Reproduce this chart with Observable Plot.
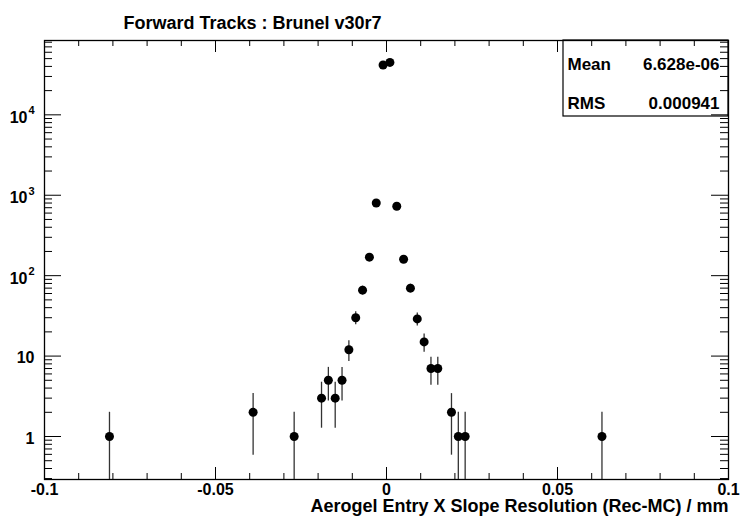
<!DOCTYPE html>
<html><head><meta charset="utf-8">
<script src="https://cdn.jsdelivr.net/npm/d3@7"></script>
<script src="https://cdn.jsdelivr.net/npm/@observablehq/plot@0.6"></script>
<style>body{margin:0;background:#fff;} svg{font-family:"Liberation Sans",Arial,sans-serif;}</style>
</head><body><div id="chart"></div>
<script>
const title = "Forward Tracks : Brunel v30r7";
const xLabel = "Aerogel Entry X Slope Resolution (Rec-MC) / mm";
const binCenters = [-0.081, -0.039, -0.027, -0.019, -0.017, -0.015, -0.013, -0.011, -0.009, -0.007, -0.005, -0.003, -0.001, 0.001, 0.003, 0.005, 0.007, 0.009, 0.011, 0.013, 0.015, 0.019, 0.021, 0.023, 0.063];
const counts = [1, 2, 1, 3, 5, 3, 5, 12, 30, 66, 170, 800, 41600, 44900, 730, 160, 70, 29, 15, 7, 7, 2, 1, 1, 1];
const xTickValues = [-0.1, -0.05, 0, 0.05, 0.1];
const xTickLabels = ["-0.1", "-0.05", "0", "0.05", "0.1"];
const yDecades = [1, 10, 100, 1000, 10000];
const yBaseLabels = ["1", "10", "10", "10", "10"];
const yExpLabels = ["", "", "2", "3", "4"];
const statNames = ["Mean", "RMS"];
const statValues = ["6.628e-06", "0.000941"];

const W = 740, H = 526, mL = 44, mR = 12, mT = 40, mB = 47;
const fw = W - mL - mR, fh = H - mT - mB;
const xDomain = [-0.1, 0.1];
const yDomain = [0.292, 84000];

const pts = binCenters.map((x, i) => ({
  x, n: counts[i],
  lo: Math.max(counts[i] - Math.sqrt(counts[i]), yDomain[0]),
  hi: counts[i] + Math.sqrt(counts[i])
}));

const xMinor = d3.range(-10, 11).map(k => k / 100).filter(v => Math.abs(v * 20 - Math.round(v * 20)) > 1e-9);
const yMinor = [];
for (let e = -1; e <= 4; e++) for (let m = 2; m <= 9; m++) { const v = m * 10 ** e; if (v >= yDomain[0] && v <= yDomain[1]) yMinor.push(v); }

const font = {fontSize: 16, fontWeight: "bold", fill: "#000"};
const expIdx = yDecades.map((d, i) => i).filter(i => yExpLabels[i] !== "");

const marks = [
  Plot.frame({stroke: "#000", strokeWidth: 1.3}),
  Plot.tickX(xTickValues, {x: d => d, insetTop: fh - 12, stroke: "#000"}),
  Plot.tickX(xTickValues, {x: d => d, insetBottom: fh - 12, stroke: "#000"}),
  Plot.tickX(xMinor, {x: d => d, insetTop: fh - 6, stroke: "#000"}),
  Plot.tickX(xMinor, {x: d => d, insetBottom: fh - 6, stroke: "#000"}),
  Plot.tickY(yDecades, {y: d => d, insetRight: fw - 17, stroke: "#000"}),
  Plot.tickY(yDecades, {y: d => d, insetLeft: fw - 17, stroke: "#000"}),
  Plot.tickY(yMinor, {y: d => d, insetRight: fw - 8, stroke: "#000"}),
  Plot.tickY(yMinor, {y: d => d, insetLeft: fw - 8, stroke: "#000"}),
  Plot.text(xTickValues, {x: d => d, text: (d, i) => xTickLabels[i], frameAnchor: "bottom", dy: 15, ...font}),
  Plot.text(yDecades.map((d, i) => i).filter(i => yExpLabels[i] === ""), {y: i => yDecades[i], text: i => yBaseLabels[i], frameAnchor: "left", textAnchor: "end", dx: -10, dy: 2, ...font}),
  Plot.text(expIdx, {y: i => yDecades[i], text: i => yBaseLabels[i], frameAnchor: "left", textAnchor: "end", dx: -17, dy: 3, ...font}),
  Plot.text(expIdx, {y: i => yDecades[i], text: i => yExpLabels[i], frameAnchor: "left", textAnchor: "start", dx: -16, dy: -4, fontSize: 11, fontWeight: "bold", fill: "#000"}),
  Plot.ruleX(pts, {x: "x", y1: "lo", y2: "hi", stroke: "#333", strokeWidth: 1.3}),
  Plot.dot(pts, {x: "x", y: "n", r: 4.5, fill: "#000", stroke: "none"}),
  Plot.text([title], {frameAnchor: "top-left", dx: 79, dy: -24, textAnchor: "start", fontSize: 18, fontWeight: "bold", fill: "#000"}),
  Plot.text([xLabel], {frameAnchor: "bottom-right", textAnchor: "end", dy: 32, fontSize: 18, fontWeight: "bold", fill: "#000"}),
  Plot.text([statNames[0]], {frameAnchor: "top-right", dx: -161, dy: 17, textAnchor: "start", ...font, fontSize: 17}),
  Plot.text([statValues[0]], {frameAnchor: "top-right", dx: -9, dy: 17, textAnchor: "end", ...font, fontSize: 17}),
  Plot.text([statNames[1]], {frameAnchor: "top-right", dx: -161, dy: 56, textAnchor: "start", ...font, fontSize: 17}),
  Plot.text([statValues[1]], {frameAnchor: "top-right", dx: -9, dy: 56, textAnchor: "end", ...font, fontSize: 17})
];

const chart = Plot.plot({
  width: W, height: H,
  marginLeft: mL, marginRight: mR, marginTop: mT, marginBottom: mB,
  x: {domain: xDomain, axis: null},
  y: {type: "log", domain: yDomain, axis: null},
  style: {background: "#fff"},
  marks
});

d3.select(chart).append("rect")
  .attr("x", W - mR - 165).attr("y", mT).attr("width", 165).attr("height", 76)
  .attr("fill", "none").attr("stroke", "#000").attr("stroke-width", 1.2);

document.getElementById("chart").appendChild(chart);
</script></body></html>
